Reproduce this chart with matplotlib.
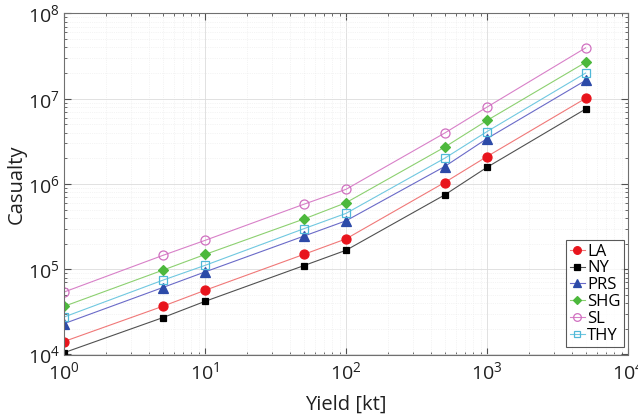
import matplotlib
matplotlib.use("Agg")
import matplotlib.pyplot as plt
from matplotlib.ticker import LogLocator, NullFormatter

plt.rcParams['font.family'] = ['Open Sans', 'DejaVu Sans']
plt.rcParams['mathtext.fontset'] = 'custom'
plt.rcParams['mathtext.rm'] = 'Open Sans'

yield_kt = [1, 5, 10, 50, 100, 500, 1000, 5000]
LA = [14200, 36700, 56600, 149000, 227000, 1.04e6, 2.1e6, 1.01e7]
NY = [10500, 27000, 42000, 110000, 167000, 7.43e5, 1.57e6, 7.57e6]
PRS = [23000, 60900, 93000, 244000, 370000, 1.6e6, 3.41e6, 1.64e7]
SHG = [36700, 97300, 149000, 387000, 603000, 2.7e6, 5.56e6, 2.67e7]
SL = [54000, 145000, 218000, 577000, 866000, 3.95e6, 7.98e6, 3.95e7]
THY = [27500, 74200, 111000, 298000, 452000, 2.0e6, 4.12e6, 2.0e7]

series = [
    ("LA", LA, dict(marker='o', color='#f07878', mfc='#e8141c', mec='#e8141c', ms=6.5)),
    ("NY", NY, dict(marker='s', color='#505050', mfc='black', mec='black', ms=5)),
    ("PRS", PRS, dict(marker='^', color='#6a6ac8', mfc='#2c4aa8', mec='#2c4aa8', ms=6.5)),
    ("SHG", SHG, dict(marker='D', color='#8cd070', mfc='#4cb83c', mec='#4cb83c', ms=5)),
    ("SL", SL, dict(marker='o', color='#d880c8', mfc='none', mec='#d070c0', ms=6.5)),
    ("THY", THY, dict(marker='s', color='#70c8e0', mfc='none', mec='#50b8d8', ms=5.5)),
]

fig = plt.figure(figsize=(6.38, 4.15), dpi=100)
ax = fig.add_axes([64/638, 60.5/415, 564/638, 341/415])

for name, vals, st in series:
    ax.plot(yield_kt, vals, lw=0.8, mew=0.9, label=name, **st)

ax.set_xscale('log')
ax.set_yscale('log')
ax.set_xlim(1, 1e4)
ax.set_ylim(1e4, 1e8)
ax.xaxis.set_major_locator(LogLocator(base=10, numticks=10))
ax.yaxis.set_major_locator(LogLocator(base=10, numticks=10))
ax.xaxis.set_minor_locator(LogLocator(base=10, subs=range(2, 10), numticks=100))
ax.yaxis.set_minor_locator(LogLocator(base=10, subs=range(2, 10), numticks=100))
ax.xaxis.set_minor_formatter(NullFormatter())
ax.yaxis.set_minor_formatter(NullFormatter())

ax.grid(True, which='major', color='#dcdcdc', lw=0.6)
ax.grid(True, which='minor', color='#eaeaea', lw=0.5, ls=':')
ax.set_axisbelow(True)

ax.tick_params(which='both', direction='in', top=True, right=True, colors='#505050',
               labelcolor='#202020')
ax.tick_params(which='major', length=5, labelsize=14)
ax.tick_params(axis='x', which='major', pad=5)
ax.tick_params(axis='y', which='major', pad=3)
ax.tick_params(which='minor', length=2.5)
for sp in ax.spines.values():
    sp.set_color('#707070')
    sp.set_linewidth(0.8)

ax.set_xlabel('Yield [kt]', fontsize=14.5, color='#202020', labelpad=8)
ax.set_ylabel('Casualty', fontsize=14.5, color='#202020', labelpad=1)

leg = ax.legend(loc='lower right', bbox_to_anchor=(624/638, (415-347)/415),
                bbox_transform=fig.transFigure, borderaxespad=0,
                fontsize=12, frameon=True, fancybox=False,
                edgecolor='#303030', handlelength=0.9, handletextpad=0.15,
                borderpad=0.2, labelspacing=0.05, markerscale=0.85)
leg.get_frame().set_linewidth(0.8)

fig.savefig('out.png', dpi=100)
